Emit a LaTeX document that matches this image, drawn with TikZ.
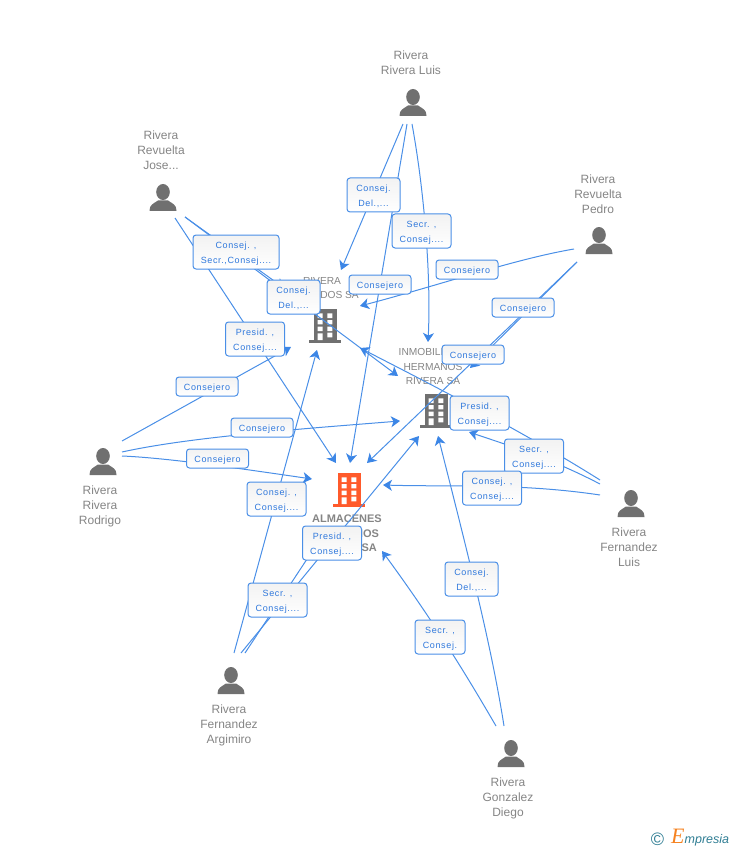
\documentclass[tikz,border=0pt]{standalone}
\usepackage{fontspec}
\setmainfont{Liberation Sans}
\newfontfamily\lblfont[LetterSpace=7]{Liberation Sans}
\newfontfamily\serfont{Liberation Serif}
\usetikzlibrary{arrows.meta}
\definecolor{linkblue}{HTML}{4A8FE7}
\definecolor{tipblue}{HTML}{3C86E6}
\definecolor{lbltext}{HTML}{2F78DC}
\definecolor{iconq}{HTML}{707070}
\definecolor{txtq}{HTML}{858585}
\definecolor{orangeb}{HTML}{FF5A2B}
\definecolor{teallogo}{HTML}{2F7D93}
\definecolor{orangelogo}{HTML}{F58220}
\tikzset{
  x=1pt,y=-1pt,
  personicon/.pic={
    \fill[iconq] (0,-6) ellipse [x radius=6.8,y radius=8];
    \fill[iconq] (-13.5,13) .. controls (-13.5,6.5) and (-10,6) .. (-5,2.5) -- (5,2.5)
      .. controls (10,6) and (13.5,6.5) .. (13.5,13) -- cycle;
  },
  pics/bldg/.style={code={
    \fill[#1] (-10.5,-17) rectangle (12.5,14.5);
    \fill[#1] (-15,14) rectangle (17,16.5);
    \fill[white] (-6.3,-12.7) rectangle (-1.3,-8) (3.3,-12.7) rectangle (8.3,-8);
    \fill[white] (-6.3,-6) rectangle (-1.3,-1.7) (3.3,-6) rectangle (8.3,-1.7);
    \fill[white] (-6.3,0.7) rectangle (-1.3,5) (3.3,0.7) rectangle (8.3,5);
    \fill[white] (-6.3,7.3) rectangle (-1.3,14) (3.3,6.7) rectangle (8.3,11.3);
  }},
  persontext/.style={text=txtq,align=center,inner sep=0pt,font=\fontsize{12}{15}\selectfont},
  firmtext/.style={text=txtq,align=center,inner sep=0pt,font=\fontsize{10.2}{14.5}\selectfont},
  maintext/.style={text=txtq,align=center,inner sep=0pt,font=\fontsize{11}{14.5}\selectfont\bfseries},
  link/.style={draw=linkblue,line width=1pt,-{Stealth[length=9pt,width=11pt,inset=2.5pt,color=tipblue]}},
  lbl/.style={draw=linkblue,line width=1pt,rounded corners=3pt,top color=black!5,bottom color=white,
    text=lbltext,align=center,inner sep=0pt,text height=28.5pt,text depth=5.5pt,
    font=\lblfont\fontsize{9}{15}\selectfont},
  lblone/.style={lbl,minimum width=62pt,text height=13.5pt},
  lblB/.style={lbl,minimum width=59pt},
  lblD/.style={lbl,minimum width=53pt},
}
\begin{document}
\begin{tikzpicture}
\useasboundingbox (0,0) rectangle (728,850);
% texts
\node[persontext] (tluis) at (411,62.5) {Rivera\\Rivera Luis};
\node[persontext] (tjose) at (161,150) {Rivera\\Revuelta\\Jose...};
\node[persontext] (tpedro) at (598,194) {Rivera\\Revuelta\\Pedro};
\node[persontext] (trod) at (100,506) {Rivera\\Rivera\\Rodrigo};
\node[persontext] (tflu) at (629,547) {Rivera\\Fernandez\\Luis};
\node[persontext] (targ) at (229,725) {Rivera\\Fernandez\\Argimiro};
\node[persontext] (tdie) at (508,798) {Rivera\\Gonzalez\\Diego};
\node[firmtext] (trd1) at (322,281) {RIVERA};
\node[firmtext,anchor=east] (trd2) at (359,295) {DOS SA};
\node[firmtext] (tinm) at (433,366.5) {INMOBILIARIA\\HERMANOS\\RIVERA SA};
\node[maintext] (talm) at (347,533.5) {ALMACENES\\HERMANOS\\RIVERA SA};
% anchors of the people and the firms
\node[coordinate] (luis) at (413,103) {};
\node[coordinate] (jose) at (163,198) {};
\node[coordinate] (pedro) at (599,241) {};
\node[coordinate] (rod) at (103,462) {};
\node[coordinate] (flu) at (631,504) {};
\node[coordinate] (arg) at (231,681) {};
\node[coordinate] (die) at (511,754) {};
\node[coordinate] (rdos) at (324,326) {};
\node[coordinate] (inm) at (435,411) {};
\node[coordinate] (alm) at (348,490) {};
% icons
\foreach \p in {luis,jose,pedro,rod,flu,arg,die} \pic at (\p) {personicon};
\pic at (rdos) {bldg=iconq};
\pic at (inm) {bldg=iconq};
\pic at (alm) {bldg=orangeb};
% connectors
\draw[link] ([shift={(-10,21)}]luis.center) -- ([shift={(17,-56)}]rdos.center);
\draw[link] ([shift={(-6,21)}]luis.center) -- ([shift={(2,-27)}]alm.center);
\draw[link] ([shift={(-1,21)}]luis.center) .. controls (425,195) and (431,280) .. ([shift={(-7,-69)}]inm.center);
\draw[link] ([shift={(12,20)}]jose.center) -- ([shift={(-12,-27)}]alm.center);
\draw[link] ([shift={(22,19)}]jose.center) -- ([shift={(-40,-38)}]rdos.center);
\draw[link] ([shift={(22,19)}]jose.center) -- ([shift={(-37,-35)}]inm.center);
\draw[link] ([shift={(-25,8)}]pedro.center) .. controls (515,259) and (440,285) .. ([shift={(36,-20)}]rdos.center);
\draw[link] ([shift={(-22,21)}]pedro.center) -- ([shift={(35,-43)}]inm.center);
\draw[link] ([shift={(-22,21)}]pedro.center) -- ([shift={(19,-27)}]alm.center);
\draw[link] ([shift={(19,-21)}]rod.center) -- ([shift={(-33,21)}]rdos.center);
\draw[link] ([shift={(19,-10)}]rod.center) .. controls (190,437) and (300,429) .. ([shift={(-35,10)}]inm.center);
\draw[link] ([shift={(19,-6)}]rod.center) .. controls (170,458) and (250,470) .. ([shift={(-36,-11)}]alm.center);
\draw[link] ([shift={(-31,-24)}]flu.center) .. controls (530,436) and (450,394) .. ([shift={(36,22)}]rdos.center);
\draw[link] ([shift={(-31,-20)}]flu.center) .. controls (550,458) and (510,446) .. ([shift={(34,21)}]inm.center);
\draw[link] ([shift={(-31,-9)}]flu.center) .. controls (520,483) and (450,487) .. ([shift={(35,-5)}]alm.center);
\draw[link] ([shift={(3,-28)}]arg.center) -- ([shift={(-7,24)}]rdos.center);
\draw[link] ([shift={(10,-28)}]arg.center) -- ([shift={(-16,25)}]inm.center);
\draw[link] ([shift={(14,-28)}]arg.center) -- ([shift={(-35,60)}]alm.center);
\draw[link] ([shift={(-15,-28)}]die.center) .. controls (475,690) and (440,630) .. ([shift={(34,61)}]alm.center);
\draw[link] ([shift={(-7,-28)}]die.center) .. controls (492,650) and (472,570) .. ([shift={(3,25)}]inm.center);
% connector labels
\node[lblD] (l1) at (373.5,195) {Consej.\\Del.,...};
\node[lblB] (l2) at (421.5,231) {Secr. ,\\Consej....};
\node[lblone] (l3) at (467,269.5) {Consejero};
\node[lbl,minimum width=86pt] (l4) at (236,252) {Consej. ,\\Secr.,Consej....};
\node[lblD] (l5) at (293.5,297) {Consej.\\Del.,...};
\node[lblone] (l6) at (380,284.5) {Consejero};
\node[lblone] (l7) at (523,307.5) {Consejero};
\node[lblB] (l8) at (255,339) {Presid. ,\\Consej....};
\node[lblone] (l9) at (473,354.5) {Consejero};
\node[lblB] (l10) at (479.5,413) {Presid. ,\\Consej....};
\node[lblone] (l11) at (207,386.5) {Consejero};
\node[lblone] (l12) at (262,427.5) {Consejero};
\node[lblone] (l13) at (217.5,458.5) {Consejero};
\node[lblB] (l14) at (534,456) {Secr. ,\\Consej....};
\node[lblB] (l15) at (492,488) {Consej. ,\\Consej....};
\node[lblB] (l16) at (276.5,499) {Consej. ,\\Consej....};
\node[lblB] (l17) at (332,543) {Presid. ,\\Consej....};
\node[lblB] (l18) at (277.5,600) {Secr. ,\\Consej....};
\node[lblD] (l19) at (471.5,579) {Consej.\\Del.,...};
\node[lbl,minimum width=50pt] (l20) at (440,637) {Secr. ,\\Consej.};
% logo
\node[inner sep=0pt,text=teallogo,font=\fontsize{18}{18}\selectfont] (copyr) at (657.5,839) {©};
\node[inner sep=0pt,anchor=base west,text=teallogo,font=\fontsize{12.5}{12}\selectfont\itshape] (emp) at (671,843)
  {{\serfont\fontsize{22}{22}\selectfont\color{orangelogo}E}mpresia};
\end{tikzpicture}
\end{document}
